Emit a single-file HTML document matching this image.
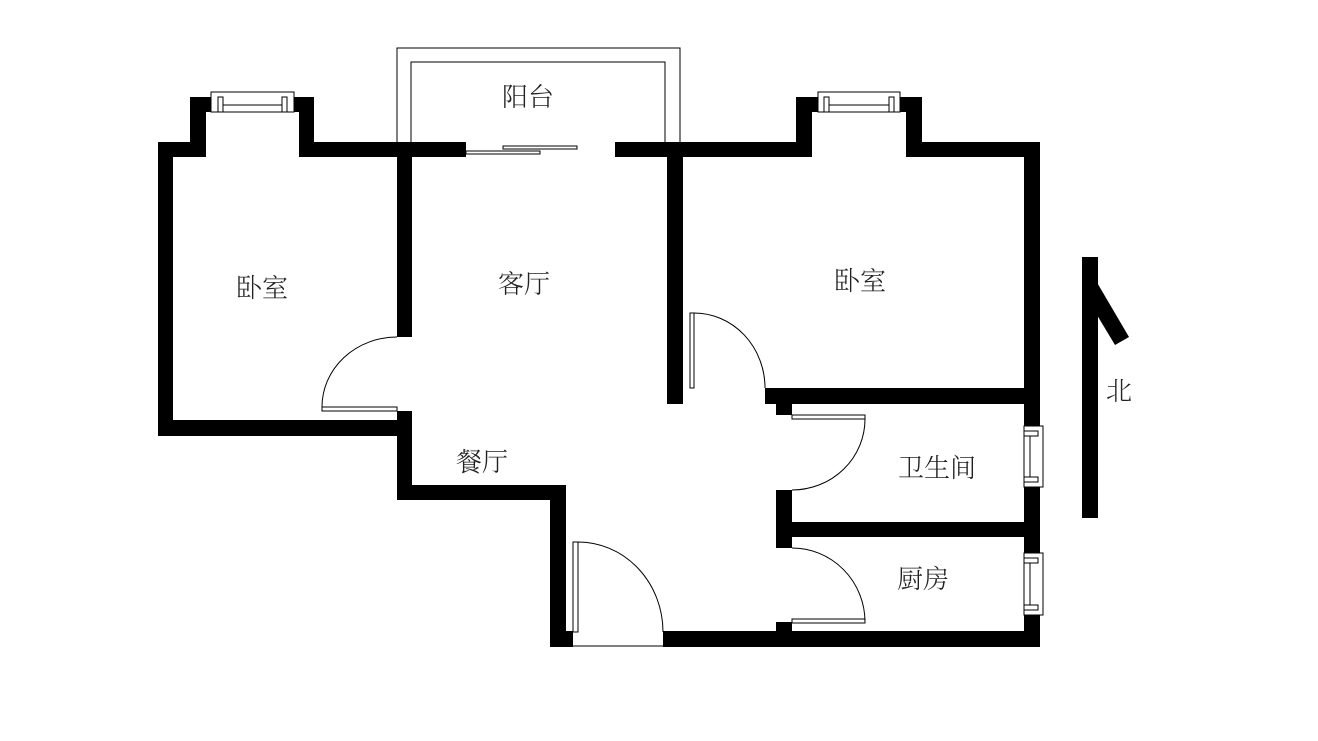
<!DOCTYPE html>
<html><head><meta charset="utf-8"><style>
html,body{margin:0;padding:0;background:#fff;}
svg{display:block}
text{font-family:"Liberation Serif","Noto Serif CJK SC",serif;font-size:26px;fill:#222;font-weight:300}
</style></head><body>
<svg width="1318" height="741" viewBox="0 0 1318 741" xmlns="http://www.w3.org/2000/svg">
<rect width="1318" height="741" fill="#fff"/>
<!-- balcony -->
<path d="M397,142 V48 H680 V142 M411,142 V62 H665 V142" fill="none" stroke="#000" stroke-width="1"/>
<g fill="#000">
<!-- left bedroom -->
<rect x="158" y="142" width="15" height="294"/>
<rect x="158" y="142" width="48" height="15"/>
<rect x="190" y="97" width="16" height="60"/>
<rect x="190" y="97" width="28" height="15"/>
<rect x="287" y="97" width="27" height="15"/>
<rect x="299" y="97" width="15" height="60"/>
<rect x="299" y="142" width="167" height="15"/>
<rect x="158" y="420" width="240" height="16"/>
<rect x="397" y="142" width="15" height="195"/>
<rect x="397" y="411" width="15" height="89"/>
<!-- dining -->
<rect x="397" y="485" width="169" height="15"/>
<rect x="550" y="485" width="16" height="162"/>
<rect x="550" y="631" width="23" height="16"/>
<rect x="663" y="631" width="377" height="16"/>
<!-- right bedroom -->
<rect x="615" y="142" width="197" height="15"/>
<rect x="796" y="97" width="16" height="60"/>
<rect x="796" y="97" width="22" height="15"/>
<rect x="900" y="97" width="22" height="15"/>
<rect x="906" y="97" width="16" height="60"/>
<rect x="906" y="142" width="134" height="15"/>
<rect x="1024" y="142" width="16" height="505"/>
<rect x="667" y="142" width="16" height="262"/>
<rect x="765" y="388" width="270" height="16"/>
<rect x="776" y="388" width="16" height="27"/>
<rect x="776" y="490" width="16" height="58"/>
<rect x="776" y="522" width="250" height="15"/>
<rect x="776" y="622" width="16" height="12"/>
<!-- north arrow -->
<rect x="1082" y="257" width="16" height="261"/>
<polygon points="1082,257 1129,337 1115,345 1082,290"/>
</g>
<g fill="#fff" stroke="#000" stroke-width="1">
<!-- windows -->
<rect x="211" y="92" width="83" height="20"/>
<rect x="218" y="97" width="5" height="15"/><rect x="282" y="97" width="5" height="15"/>
<line x1="223" y1="105" x2="282" y2="105"/>
<rect x="818" y="92" width="82" height="20"/>
<rect x="824" y="97" width="5" height="15"/><rect x="889" y="97" width="5" height="15"/>
<line x1="829" y1="105" x2="889" y2="105"/>
<rect x="1024" y="426" width="19" height="61"/>
<rect x="1024" y="431" width="14" height="5"/><rect x="1024" y="477" width="14" height="5"/>
<line x1="1030" y1="436" x2="1030" y2="477"/>
<rect x="1024" y="553" width="19" height="62"/>
<rect x="1024" y="558" width="14" height="5"/><rect x="1024" y="605" width="14" height="5"/>
<line x1="1030" y1="563" x2="1030" y2="605"/>
<!-- sliding door -->
<rect x="503" y="146" width="74" height="3"/>
<rect x="466" y="151" width="74" height="3"/>
<!-- door leaves -->
<rect x="322" y="407" width="75" height="4"/>
<rect x="690" y="313" width="4" height="75"/>
<rect x="792" y="415" width="73" height="4"/>
<rect x="792" y="619" width="73" height="4"/>
<rect x="573" y="542" width="5" height="90"/>
</g>
<g fill="none" stroke="#000" stroke-width="1">
<path d="M322,407 A75,70 0 0 1 397,337"/>
<path d="M694,313 A71,75 0 0 1 765,388"/>
<path d="M865,419 A73,71 0 0 1 792,490"/>
<path d="M792,548 A73,74 0 0 1 865,622"/>
<path d="M578,542 A85,90 0 0 1 663,632"/>
<line x1="573" y1="646" x2="663" y2="646"/>
</g>
<text x="528" y="106" text-anchor="middle">阳台</text>
<text x="262" y="297" text-anchor="middle">卧室</text>
<text x="524" y="293" text-anchor="middle">客厅</text>
<text x="860" y="290" text-anchor="middle">卧室</text>
<text x="482" y="471" text-anchor="middle">餐厅</text>
<text x="937" y="477" text-anchor="middle">卫生间</text>
<text x="923" y="588" text-anchor="middle">厨房</text>
<text x="1119" y="400" text-anchor="middle">北</text>
</svg>
</body></html>
